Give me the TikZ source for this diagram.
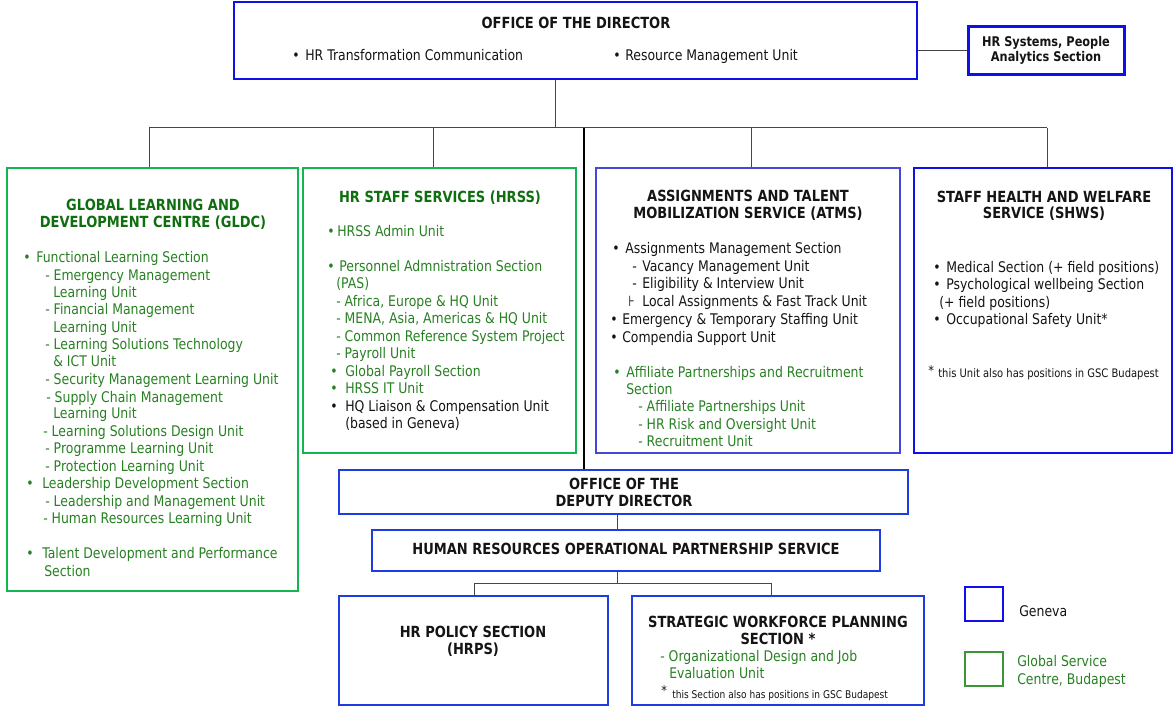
\documentclass[tikz,border=0pt]{standalone}
\usepackage{fontspec}
\setmainfont{DejaVu Sans}[FakeStretch=0.85]
\usetikzlibrary{fit}
\definecolor{blueA}{RGB}{15,15,235}
\definecolor{blueB}{RGB}{70,70,215}
\definecolor{blueC}{RGB}{30,60,225}
\definecolor{gborder}{RGB}{20,180,80}
\definecolor{lgreen}{RGB}{60,150,55}
\definecolor{tgreen}{RGB}{40,128,35}
\definecolor{ttlgreen}{RGB}{15,110,15}
\definecolor{tblack}{RGB}{20,20,20}
\definecolor{conn}{RGB}{70,70,70}
\newcounter{tn}
\newcommand\T[4][]{\stepcounter{tn}\node[txt,#1] (t\thetn) at (#2,#3+5) {#4};}
\newcommand\B[5][]{\T[#1]{#2}{#4}{•}\T[#1]{#3}{#4}{#5}}
\newcommand\TT[4][]{\stepcounter{tn}\node[ttl,#1] (t\thetn) at (#2,#3+5) {#4};}
\begin{document}
\begin{tikzpicture}[x=0.75pt,y=-0.75pt,
  box/.style={draw, line width=1.5pt, inner sep=0pt},
  bA/.style={box, draw=blueA},
  bB/.style={box, draw=blueB},
  bC/.style={box, draw=blueC},
  gB/.style={box, draw=gborder},
  txt/.style={anchor=base west, inner sep=0pt, font=\fontsize{11}{13}\selectfont, text=tblack},
  gt/.style={text=tgreen},
  ttl/.style={anchor=base, inner sep=0pt, font=\bfseries\fontsize{11.5}{13}\selectfont, text=tblack},
  gttl/.style={text=ttlgreen},
  fn/.style={font=\fontsize{8}{10}\selectfont},
  fnb/.style={font=\fontsize{8.8}{10}\selectfont},
  ast/.style={font=\fontsize{10}{10}\selectfont},
  link/.style={draw=conn, line width=0.75pt},
  main/.style={draw=black, line width=1.5pt}]
\useasboundingbox (0,0) rectangle (1174,706);
% boxes
\node[bA, fit={(234,2) (917,79)}] (dir) {};
\node[bA, line width=2.25pt, fit={(968,27) (1124,75)}] (hrsys) {};
\node[gB, fit={(7,168) (298,591)}] (gldc) {};
\node[gB, fit={(303,168) (576,453)}] (hrss) {};
\node[bB, fit={(596,168) (900,453)}] (atms) {};
\node[bA, fit={(914,168) (1172,453)}] (shws) {};
\node[bC, fit={(339,470) (908,514)}] (dep) {};
\node[bC, fit={(372,530) (880,571)}] (hrops) {};
\node[bC, fit={(339,596) (608,705)}] (hrps) {};
\node[bC, fit={(632,596) (924,705)}] (swps) {};
\node[box, draw=blueA, fit={(965,587) (1003,621)}] (legB) {};
\node[box, draw=lgreen, fit={(965,652) (1003,686)}] (legG) {};
% connectors
\coordinate (j0) at (555,128);
\coordinate (b1) at (149,128);
\coordinate (b2) at (433,128);
\coordinate (b3) at (751,128);
\coordinate (b4) at (1047,128);
\coordinate (c0) at (583.5,128);
\coordinate (c1) at (617,583);
\coordinate (d1) at (474,583);
\coordinate (d2) at (771,583);
\draw[link] (j0 |- dir.south) -- (j0);
\draw[link] (b1) -- (b4);
\draw[link] (b1) -- (b1 |- gldc.north);
\draw[link] (b2) -- (b2 |- hrss.north);
\draw[link] (b3) -- (b3 |- atms.north);
\draw[link] (b4) -- (b4 |- shws.north);
\draw[main] (c0) -- (c0 |- dep.north);
\draw[link] (dir.east |- hrsys.west) -- (hrsys.west);
\draw[link] (c1 |- dep.south) -- (c1 |- hrops.north);
\draw[link] (c1 |- hrops.south) -- (c1);
\draw[link] (d1 |- hrps.north) -- (d1) -- (d2) -- (d2 |- swps.north);
% director
\TT{576}{24}{OFFICE OF THE DIRECTOR}
\B{292}{305}{56}{HR Transformation Communication}
\B{613}{625}{56}{Resource Management Unit}
\TT[font=\bfseries\fontsize{10}{12}\selectfont]{1046}{41.5}{HR Systems, People}
\TT[font=\bfseries\fontsize{10}{12}\selectfont]{1046}{57}{Analytics Section}
% GLDC
\TT[gttl]{153}{205.5}{GLOBAL LEARNING AND}
\TT[gttl]{153}{223}{DEVELOPMENT CENTRE (GLDC)}
\B[gt]{23}{36}{257}{Functional Learning Section}
\T[gt]{45}{275}{- Emergency Management}
\T[gt]{53}{292}{Learning Unit}
\T[gt]{45}{309}{- Financial Management}
\T[gt]{53}{327}{Learning Unit}
\T[gt]{45}{344}{- Learning Solutions Technology}
\T[gt]{53}{361}{\& ICT Unit}
\T[gt]{45}{379}{- Security Management Learning Unit}
\T[gt]{46}{397}{- Supply Chain Management}
\T[gt]{53}{413}{Learning Unit}
\T[gt]{43}{431}{- Learning Solutions Design Unit}
\T[gt]{45}{448}{- Programme Learning Unit}
\T[gt]{45}{466}{- Protection Learning Unit}
\B[gt]{26}{42}{483}{Leadership Development Section}
\T[gt]{45}{501}{- Leadership and Management Unit}
\T[gt]{43}{518}{- Human Resources Learning Unit}
\B[gt]{26}{42}{553}{Talent Development and Performance}
\T[gt]{44}{571}{Section}
% HRSS
\TT[gttl]{440}{198}{HR STAFF SERVICES (HRSS)}
\B[gt]{327}{337}{231}{HRSS Admin Unit}
\B[gt]{327}{339}{266}{Personnel Admnistration Section}
\T[gt]{336}{283.5}{(PAS)}
\T[gt]{336}{301}{- Africa, Europe \& HQ Unit}
\T[gt]{336}{318.5}{- MENA, Asia, Americas \& HQ Unit}
\T[gt]{336}{336}{- Common Reference System Project}
\T[gt]{336}{353.5}{- Payroll Unit}
\B[gt]{330}{345}{371}{Global Payroll Section}
\B[gt]{330}{345}{388.5}{HRSS IT Unit}
\B{330}{345}{406}{HQ Liaison \& Compensation Unit}
\T{345}{423.5}{(based in Geneva)}
% ATMS
\TT{748}{196}{ASSIGNMENTS AND TALENT}
\TT{748}{214}{MOBILIZATION SERVICE (ATMS)}
\B{612}{625}{248}{Assignments Management Section}
\T{632}{266}{-}\T{642}{266}{Vacancy Management Unit}
\T{632}{283}{-}\T{642}{283}{Eligibility \& Interview Unit}
\T{628}{301}{⊦}\T{642}{301}{Local Assignments \& Fast Track Unit}
\B{610}{622}{319}{Emergency \& Temporary Staffing Unit}
\B{610}{622}{337}{Compendia Support Unit}
\B[gt]{613}{626}{372}{Affiliate Partnerships and Recruitment}
\T[gt]{626}{389}{Section}
\T[gt]{638}{406}{- Affiliate Partnerships Unit}
\T[gt]{638}{424}{- HR Risk and Oversight Unit}
\T[gt]{638}{441}{- Recruitment Unit}
% SHWS
\TT{1044}{197}{STAFF HEALTH AND WELFARE}
\TT{1044}{214}{SERVICE (SHWS)}
\B{933}{946}{267}{Medical Section (+ field positions)}
\B{933}{946}{284}{Psychological wellbeing Section}
\T{939}{302}{(+ field positions)}
\B{933}{946}{319}{Occupational Safety Unit*}
\T[ast]{928}{370}{*}
\T[fnb]{938}{372}{this Unit also has positions in GSC Budapest}
% deputy and below
\TT{624}{484}{OFFICE OF THE}
\TT{624}{501}{DEPUTY DIRECTOR}
\TT{626}{549}{HUMAN RESOURCES OPERATIONAL PARTNERSHIP SERVICE}
\TT{473}{632}{HR POLICY SECTION}
\TT{473}{649}{(HRPS)}
\TT{778}{622}{STRATEGIC WORKFORCE PLANNING}
\TT{778}{639}{SECTION *}
\T[gt]{660}{656}{- Organizational Design and Job}
\T[gt]{669}{673}{Evaluation Unit}
\T[ast]{661}{690}{*}
\T[fn]{672}{693}{this Section also has positions in  GSC Budapest}
% legend
\T{1019}{611}{Geneva}
\T[gt]{1017}{661}{Global Service}
\T[gt]{1017}{679}{Centre, Budapest}
\end{tikzpicture}
\end{document}
